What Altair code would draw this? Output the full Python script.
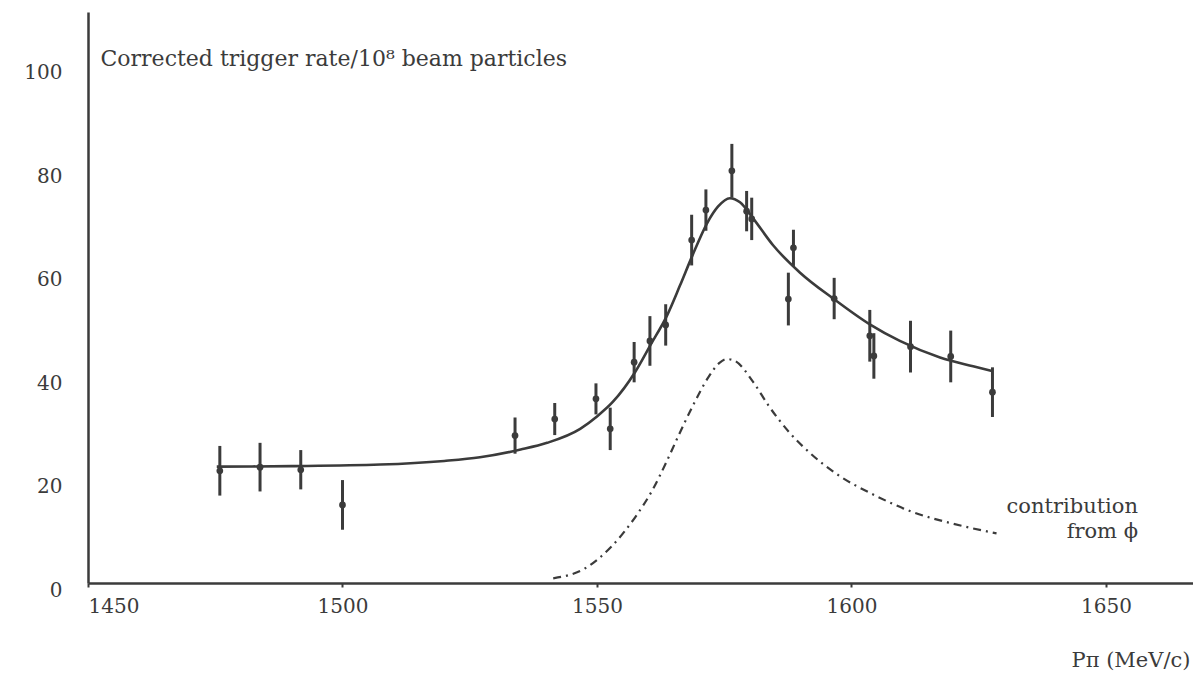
import altair as alt
import pandas as pd

# Measured trigger rates (per 10^8 beam particles) versus pion beam momentum
momentum = [1475.9, 1483.8, 1491.8, 1500.0, 1533.9, 1541.7, 1549.8, 1552.6,
            1557.3, 1560.4, 1563.5, 1568.6, 1571.4, 1576.5, 1579.4, 1580.4,
            1587.6, 1588.6, 1596.6, 1603.6, 1604.4, 1611.6, 1619.5, 1627.7]
rate = [21.7, 22.4, 21.9, 15.1, 28.5, 31.7, 35.6, 29.8,
        42.7, 46.8, 49.9, 66.3, 72.1, 79.7, 71.9, 70.4,
        54.9, 64.8, 55.0, 47.8, 43.9, 45.7, 43.8, 36.9]
rate_err = [4.8, 4.7, 3.8, 4.8, 3.5, 3.1, 3.0, 4.1,
            3.9, 4.8, 4.0, 4.9, 4.0, 5.2, 3.9, 4.1,
            5.1, 3.5, 4.0, 5.0, 4.4, 5.0, 5.0, 4.8]

# Fitted total rate
fit_p = [1475.3, 1490.0, 1507.4, 1520.0, 1527.0, 1535.0, 1540.2, 1546.7,
         1550.0, 1553.1, 1557.5, 1560.5, 1563.8, 1566.3, 1568.7, 1571.6,
         1573.8, 1576.1, 1578.1, 1580.6, 1584.6, 1589.9, 1596.4, 1603.6,
         1609.5, 1617.4, 1623.9, 1627.6]
fit_rate = [22.5, 22.6, 22.9, 23.6, 24.3, 25.8, 27.1, 29.8,
            32.2, 35.0, 40.8, 46.0, 51.8, 57.5, 63.2, 69.5,
            72.8, 74.4, 73.6, 70.6, 65.3, 60.0, 55.0, 50.0,
            46.8, 43.6, 41.9, 41.0]

# Resonant contribution from the phi
phi_p = [1541.4, 1547.6, 1552.8, 1557.7, 1560.8, 1563.6, 1565.6, 1568.8,
         1571.9, 1574.0, 1575.5, 1577.0, 1580.6, 1583.7, 1587.9, 1592.0,
         1596.9, 1604.5, 1611.8, 1619.8, 1628.5]
phi_rate = [0.9, 2.8, 7.0, 13.0, 17.8, 23.3, 27.6, 34.2,
            39.8, 42.5, 43.3, 43.0, 39.0, 34.3, 29.0, 25.0,
            21.2, 17.0, 13.8, 11.5, 9.6]

x_ticks = [1450, 1500, 1550, 1600, 1650]
y_ticks = [0, 20, 40, 60, 80, 100]

INK = "#3b3b3b"
FONT = "DejaVu Serif"

points = pd.DataFrame({"p": momentum, "rate": rate, "err": rate_err})
points["lo"] = points["rate"] - points["err"]
points["hi"] = points["rate"] + points["err"]
fit = pd.DataFrame({"p": fit_p, "rate": fit_rate})
phi = pd.DataFrame({"p": phi_p, "rate": phi_rate})

x_scale = alt.Scale(domain=[1450, 1667.1], nice=False, zero=False)
y_scale = alt.Scale(domain=[0, 110.4], nice=False)

x_axis = alt.Axis(
    values=x_ticks, format="d", grid=False,
    domainColor=INK, domainWidth=2.5, tickColor=INK, tickWidth=2, tickSize=4,
    labelFont=FONT, labelFontSize=20, labelColor=INK, labelPadding=9,
    title="Pπ (MeV/c)", titleFont=FONT, titleFontSize=21, titleFontWeight="normal",
    titleColor=INK, titleAnchor="end", titleAlign="right", titleBaseline="middle",
    titleX=1102, titleY=77,
)
y_axis = alt.Axis(
    values=y_ticks, format="d", grid=False, ticks=False,
    domainColor=INK, domainWidth=2.5,
    labelFont=FONT, labelFontSize=20, labelColor=INK, labelPadding=26, labelOffset=7,
    title="Corrected trigger rate/10⁸ beam particles", titleFont=FONT,
    titleFontSize=22, titleFontWeight="normal", titleColor=INK, titleAngle=0,
    titleAlign="left", titleBaseline="middle", titleX=12, titleY=46,
)

base_x = alt.X("p:Q", scale=x_scale, axis=x_axis)

bars = alt.Chart(points).mark_rule(color=INK, strokeWidth=3).encode(
    x=base_x,
    y=alt.Y("lo:Q", scale=y_scale, axis=y_axis),
    y2="hi:Q",
)
dots = alt.Chart(points).mark_circle(color=INK, size=45, opacity=1).encode(
    x="p:Q", y="rate:Q"
)
fit_line = alt.Chart(fit).mark_line(
    color=INK, strokeWidth=2.6, interpolate="monotone"
).encode(x="p:Q", y="rate:Q")
phi_line = alt.Chart(phi).mark_line(
    color=INK, strokeWidth=2.2, interpolate="monotone", strokeDash=[8, 5, 2, 5]
).encode(x="p:Q", y="rate:Q")

label1 = alt.Chart(pd.DataFrame({"t": ["contribution"]})).mark_text(
    font=FONT, fontSize=21, color=INK, align="right", baseline="middle"
).encode(x=alt.value(1050), y=alt.value(495), text="t:N")
label2 = alt.Chart(pd.DataFrame({"t": ["from ϕ"]})).mark_text(
    font=FONT, fontSize=21, color=INK, align="right", baseline="middle"
).encode(x=alt.value(1050), y=alt.value(520), text="t:N")

chart = alt.layer(bars, fit_line, phi_line, dots, label1, label2).properties(
    width=1105,
    height=571,
    autosize=alt.AutoSizeParams(type="none"),
    padding={"left": 88, "top": 12, "right": 0, "bottom": 91},
    background="white",
).configure_view(stroke=None)

chart.save("out.html", embed_options={"renderer": "svg", "actions": False})
